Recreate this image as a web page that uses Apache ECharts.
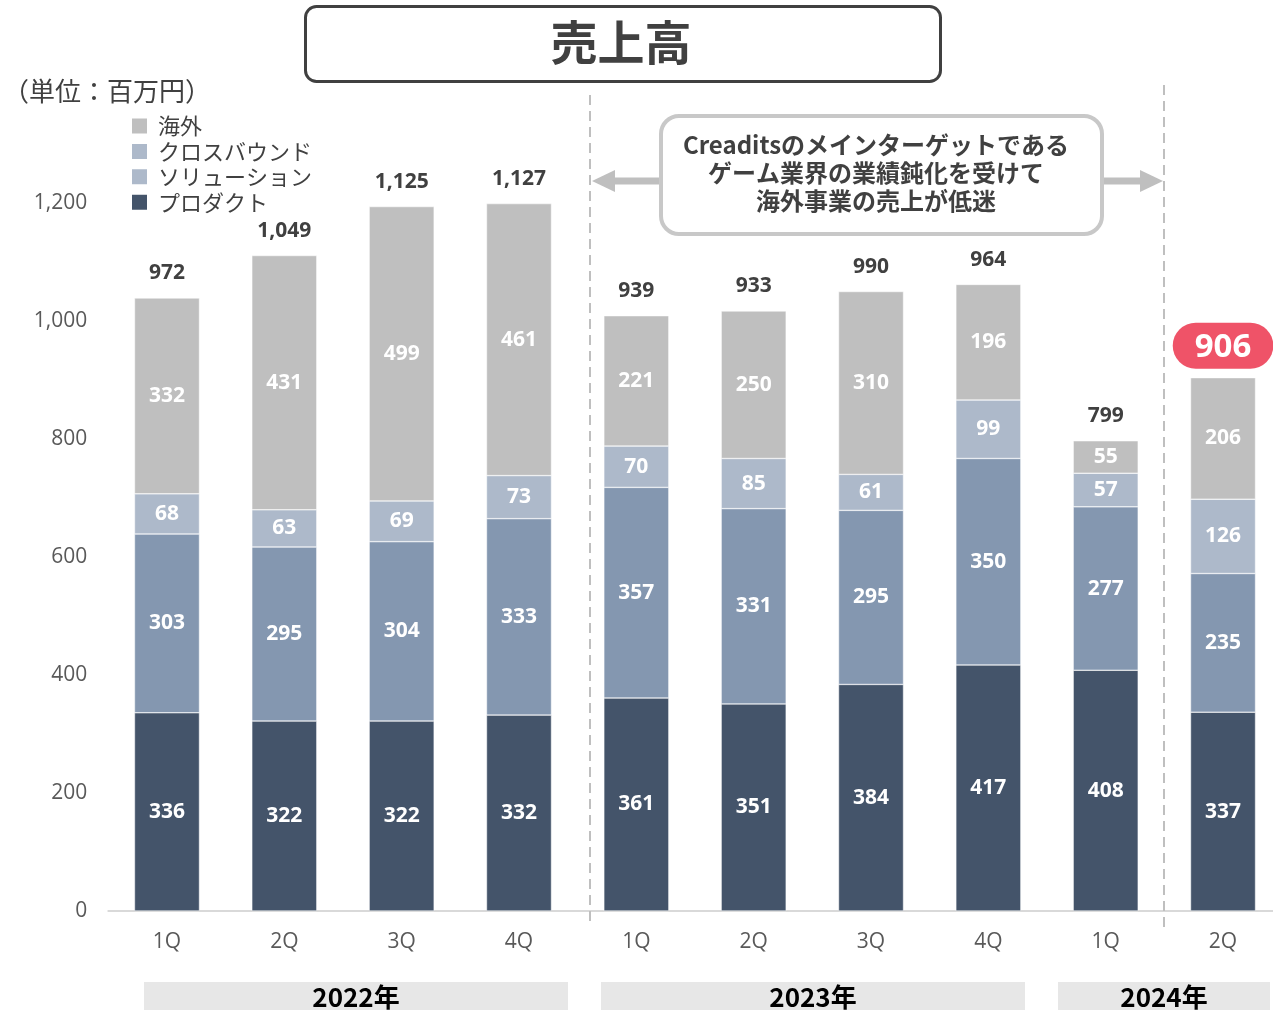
<!DOCTYPE html>
<html>
<head>
<meta charset="utf-8">
<script src="https://cdn.jsdelivr.net/npm/echarts@6/dist/echarts.min.js"></script>
<style>
html, body { margin: 0; padding: 0; background: #fff; overflow: hidden; }
#chart { width: 1282px; height: 1010px; }
</style>
</head>
<body>
<div id="chart"></div>
<script>
// Quarterly sales (million yen), stacked by business line
var quarters = ['1Q', '2Q', '3Q', '4Q', '1Q', '2Q', '3Q', '4Q', '1Q', '2Q'];
var years = ['2022年', '2023年', '2024年'];
var product = [336, 322, 322, 332, 361, 351, 384, 417, 408, 337];
var solution = [303, 295, 304, 333, 357, 331, 295, 350, 277, 235];
var crossbound = [68, 63, 69, 73, 70, 85, 61, 99, 57, 126];
var overseas = [332, 431, 499, 461, 221, 250, 310, 196, 55, 206];
var totals = [972, 1049, 1125, 1127, 939, 933, 990, 964, 799, 906];
var yTicks = [0, 200, 400, 600, 800, 1000, 1200];

var FONT = '"Open Sans", "Noto Sans CJK JP", sans-serif';
var JP = '"Noto Sans CJK JP", sans-serif';
var TEXT = '#404040';

var chart = echarts.init(document.getElementById('chart'), null, { renderer: 'canvas' });

function segLabel() {
  return {
    show: true,
    position: 'inside',
    color: '#ffffff',
    fontFamily: FONT,
    fontWeight: 'bold',
    fontSize: 21
  };
}

var lastIdx = totals.length - 1;

function fmtNum(v) {
  return String(v).replace(/\B(?=(\d{3})+(?!\d))/g, ',');
}

var option = {
  backgroundColor: '#ffffff',
  animation: false,
  textStyle: { fontFamily: FONT },
  // the plot runs slightly past the right edge of the visible page
  grid: { left: 108.3, right: 0.3, top: 203, bottom: 99, containLabel: false },
  legend: {
    orient: 'vertical',
    left: 130,
    top: 115,
    padding: 0,
    itemWidth: 17,
    itemHeight: 17,
    itemGap: 3.4,
    icon: 'rect',
    textStyle: { fontFamily: JP, fontSize: 22, lineHeight: 17, color: TEXT, padding: [0, 0, 0, 5] },
    data: [
      { name: '海外', itemStyle: { color: '#bfbfbf' } },
      { name: 'クロスバウンド', itemStyle: { color: '#adb9ca' } },
      { name: 'ソリューション', itemStyle: { color: '#adb9ca' } },
      { name: 'プロダクト', itemStyle: { color: '#44546a' } }
    ]
  },
  xAxis: {
    type: 'category',
    data: quarters,
    axisLine: { lineStyle: { color: '#d9d9d9', width: 2 } },
    axisTick: { show: false },
    axisLabel: { color: '#595959', fontFamily: FONT, fontSize: 21, margin: 21 }
  },
  yAxis: {
    type: 'value',
    min: yTicks[0],
    max: yTicks[yTicks.length - 1],
    interval: yTicks[1] - yTicks[0],
    splitLine: { show: false },
    axisLine: { show: false },
    axisTick: { show: false },
    axisLabel: {
      color: '#595959', fontFamily: FONT, fontSize: 21, margin: 21,
      formatter: function (v) { return fmtNum(v); }
    }
  },
  series: [
    {
      name: 'プロダクト', type: 'bar', stack: 'sales', barWidth: 65,
      itemStyle: { color: '#44546a', borderColor: '#ffffff', borderWidth: 0.5 },
      label: segLabel(), data: product
    },
    {
      name: 'ソリューション', type: 'bar', stack: 'sales', barWidth: 65,
      itemStyle: { color: '#8497b0', borderColor: '#ffffff', borderWidth: 0.5 },
      label: segLabel(), data: solution
    },
    {
      name: 'クロスバウンド', type: 'bar', stack: 'sales', barWidth: 65,
      itemStyle: { color: '#adb9ca', borderColor: '#ffffff', borderWidth: 0.5 },
      label: segLabel(), data: crossbound
    },
    {
      name: '海外', type: 'bar', stack: 'sales', barWidth: 65,
      itemStyle: { color: '#bfbfbf', borderColor: '#ffffff', borderWidth: 0.5 },
      label: segLabel(), data: overseas
    },
    {
      // quarter totals shown above each stack
      name: '合計', type: 'bar', stack: 'sales', barWidth: 65,
      itemStyle: { color: 'transparent' },
      legendHoverLink: false,
      data: overseas.map(function () { return 0; }),
      label: {
        show: true,
        position: 'top',
        distance: 14,
        formatter: function (p) {
          var t = fmtNum(totals[p.dataIndex]);
          return p.dataIndex === lastIdx ? '{hl|' + t + '}' : '{n|' + t + '}';
        },
        rich: {
          n: { fontFamily: FONT, fontWeight: 'bold', fontSize: 21, color: TEXT },
          hl: {
            fontFamily: FONT, fontWeight: 'bold', fontSize: 33, color: '#ffffff',
            backgroundColor: '#ef5368', borderRadius: 23,
            padding: [8, 22, 5, 22], lineHeight: 36
          }
        }
      }
    }
  ],
  graphic: [
    // title box
    {
      type: 'rect', left: 304, top: 5, z: 10,
      shape: { width: 635, height: 75, r: 11 },
      style: { fill: '#ffffff', stroke: '#404040', lineWidth: 3 }
    },
    {
      type: 'text', x: 621, y: 42, z: 11,
      style: {
        text: '売上高', fill: TEXT, font: 'bold 47px ' + JP,
        textAlign: 'center', textVerticalAlign: 'middle'
      }
    },
    // unit
    {
      type: 'text', x: 3, y: 91, z: 11,
      style: {
        text: '（単位：百万円）', fill: TEXT, font: '26px ' + JP,
        textAlign: 'left', textVerticalAlign: 'middle'
      }
    },
    // period dividers
    {
      type: 'line', z: 5,
      shape: { x1: 590, y1: 95, x2: 590, y2: 926 },
      style: { stroke: '#bfbfbf', lineWidth: 2, lineDash: [10, 6] }
    },
    {
      type: 'line', z: 5,
      shape: { x1: 1164, y1: 85, x2: 1164, y2: 930 },
      style: { stroke: '#bfbfbf', lineWidth: 2, lineDash: [10, 6] }
    },
    // arrows
    {
      type: 'line', z: 6,
      shape: { x1: 612, y1: 181, x2: 662, y2: 181 },
      style: { stroke: '#bfbfbf', lineWidth: 7 }
    },
    {
      type: 'polygon', z: 6,
      shape: { points: [[592, 181], [615, 170], [615, 192]] },
      style: { fill: '#bfbfbf' }
    },
    {
      type: 'line', z: 6,
      shape: { x1: 1098, y1: 181, x2: 1142, y2: 181 },
      style: { stroke: '#bfbfbf', lineWidth: 7 }
    },
    {
      type: 'polygon', z: 6,
      shape: { points: [[1163, 181], [1140, 170], [1140, 192]] },
      style: { fill: '#bfbfbf' }
    },
    // annotation box
    {
      type: 'rect', left: 659, top: 114, z: 10,
      shape: { width: 441, height: 118, r: 18 },
      style: { fill: '#ffffff', stroke: '#c8c8c8', lineWidth: 4 }
    },
    {
      type: 'text', x: 876, y: 173, z: 11,
      style: {
        text: 'Creaditsのメインターゲットである\nゲーム業界の業績鈍化を受けて\n海外事業の売上が低迷',
        fill: TEXT, font: 'bold 24px ' + JP, lineHeight: 28,
        textAlign: 'center', textVerticalAlign: 'middle'
      }
    },
    // year bands
    {
      type: 'rect', left: 144, top: 982, z: 1,
      shape: { width: 424, height: 28 }, style: { fill: '#e7e7e7' }
    },
    {
      type: 'rect', left: 601, top: 982, z: 1,
      shape: { width: 424, height: 28 }, style: { fill: '#e7e7e7' }
    },
    {
      type: 'rect', left: 1058, top: 982, z: 1,
      shape: { width: 212, height: 28 }, style: { fill: '#e7e7e7' }
    },
    {
      type: 'text', x: 356, y: 997, z: 2,
      style: { text: years[0], fill: '#000', font: 'bold 26px ' + JP, textAlign: 'center', textVerticalAlign: 'middle' }
    },
    {
      type: 'text', x: 813, y: 997, z: 2,
      style: { text: years[1], fill: '#000', font: 'bold 26px ' + JP, textAlign: 'center', textVerticalAlign: 'middle' }
    },
    {
      type: 'text', x: 1164, y: 997, z: 2,
      style: { text: years[2], fill: '#000', font: 'bold 26px ' + JP, textAlign: 'center', textVerticalAlign: 'middle' }
    }
  ]
};

chart.setOption(option);
</script>
</body>
</html>
